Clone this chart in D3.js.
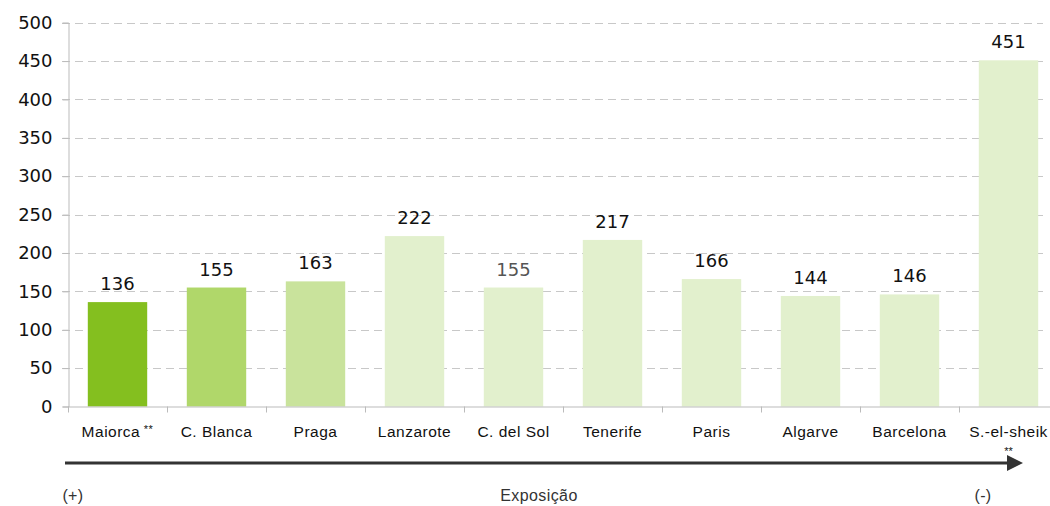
<!DOCTYPE html>
<html>
<head>
<meta charset="utf-8">
<script src="https://cdn.jsdelivr.net/npm/d3@7"></script>
<style>
  body { margin: 0; background: #fff; }
  svg { display: block; }
</style>
</head>
<body>
<div id="chart"></div>
<script>
// data
var categories = ["Maiorca **", "C. Blanca", "Praga", "Lanzarote", "C. del Sol", "Tenerife", "Paris", "Algarve", "Barcelona", "S.-el-sheik"];
var values = [136, 155, 163, 222, 155, 217, 166, 144, 146, 451];
var barColors = ["#84bf1f", "#b0d76a", "#c9e39c", "#e2f0cd", "#e2f0cd", "#e2f0cd", "#e2f0cd", "#e2f0cd", "#e2f0cd", "#e2f0cd"];
var labelColors = ["#111", "#111", "#111", "#111", "#555", "#111", "#111", "#111", "#111", "#111"];
var yTicks = [0, 50, 100, 150, 200, 250, 300, 350, 400, 450, 500];

var width = 1050, height = 506;
var x0 = 68, x1 = 1058, yTop = 22.7, yBottom = 406.5;

var svg = d3.select("#chart").append("svg")
	.attr("width", width)
	.attr("height", height);

var x = d3.scaleBand()
	.domain(categories)
	.range([x0, x1])
	.paddingInner(0.4)
	.paddingOuter(0.2);

var y = d3.scaleLinear()
	.domain([0, 500])
	.range([yBottom, yTop]);

// dashed gridlines
svg.append("g")
	.selectAll("line")
	.data(yTicks.slice(1))
	.enter().append("line")
	.attr("x1", x0 - 6)
	.attr("x2", 1043)
	.attr("y1", d => Math.round(y(d)) + 0.5)
	.attr("y2", d => Math.round(y(d)) + 0.5)
	.attr("stroke", "#c8c8c8")
	.attr("stroke-dasharray", "8,5");

// y axis
var yAxis = svg.append("g")
	.attr("transform", "translate(" + (x0 + 0.5) + ",0)")
	.call(d3.axisLeft(y).tickValues(yTicks).tickSize(6).tickPadding(10));
yAxis.select(".domain").attr("stroke", "#bbb");
yAxis.selectAll(".tick line").attr("stroke", "#bbb");
yAxis.selectAll("text")
	.attr("fill", "#111")
	.style("font-family", "DejaVu Sans, Verdana, sans-serif")
	.style("font-size", "18px");

// bars
svg.append("g")
	.selectAll("rect")
	.data(values)
	.enter().append("rect")
	.attr("x", (d, i) => x(categories[i]))
	.attr("width", x.bandwidth())
	.attr("y", d => y(d))
	.attr("height", d => y(0) - y(d))
	.attr("fill", (d, i) => barColors[i]);

// value labels
svg.append("g")
	.selectAll("text")
	.data(values)
	.enter().append("text")
	.attr("x", (d, i) => x(categories[i]) + x.bandwidth() / 2)
	.attr("y", d => y(d) - 12)
	.attr("text-anchor", "middle")
	.attr("fill", (d, i) => labelColors[i])
	.style("font-family", "DejaVu Sans, Verdana, sans-serif")
	.style("font-size", "18px")
	.text(d => d);

// x axis (ticks on band boundaries)
var step = x.step();
svg.append("line")
	.attr("x1", x0).attr("x2", x1)
	.attr("y1", yBottom + 0.5).attr("y2", yBottom + 0.5)
	.attr("stroke", "#bbb");
svg.append("g")
	.selectAll("line")
	.data(categories)
	.enter().append("line")
	.attr("x1", d => Math.round(x(d) - step * 0.2) + 0.5)
	.attr("x2", d => Math.round(x(d) - step * 0.2) + 0.5)
	.attr("y1", yBottom)
	.attr("y2", yBottom + 6)
	.attr("stroke", "#bbb");

// category labels
svg.append("g")
	.selectAll("text")
	.data(categories)
	.enter().append("text")
	.attr("x", d => x(d) + x.bandwidth() / 2)
	.attr("y", 437)
	.attr("text-anchor", "middle")
	.attr("fill", "#111")
	.style("font-family", "Liberation Sans, Arial, sans-serif")
	.style("font-size", "15.5px")
	.style("letter-spacing", "0.5px")
	.text(d => d.replace(" **", ""))
	.filter(d => d.indexOf("**") >= 0)
	.append("tspan")
	.attr("font-size", "11px")
	.attr("dy", -4)
	.text(" **");

// footnote stars under the last category
svg.append("text")
	.attr("x", x(categories[9]) + x.bandwidth() / 2)
	.attr("y", 455)
	.attr("text-anchor", "middle")
	.attr("fill", "#111")
	.style("font-family", "Liberation Sans, Arial, sans-serif")
	.style("font-size", "11px")
	.text("**");

// exposure arrow
svg.append("line")
	.attr("x1", 65).attr("x2", 1008)
	.attr("y1", 463).attr("y2", 463)
	.attr("stroke", "#333")
	.attr("stroke-width", 3);
svg.append("path")
	.attr("d", "M1007,455 L1023,463 L1007,471 Z")
	.attr("fill", "#333");

var bottomLabels = [["(+)", 73], ["Exposição", 539], ["(-)", 983]];
svg.append("g")
	.selectAll("text")
	.data(bottomLabels)
	.enter().append("text")
	.attr("x", d => d[1])
	.attr("y", 501)
	.attr("text-anchor", "middle")
	.attr("fill", "#333")
	.style("font-family", "Liberation Sans, Arial, sans-serif")
	.style("font-size", "16px")
	.style("letter-spacing", "0.4px")
	.text(d => d[0]);
</script>
</body>
</html>
